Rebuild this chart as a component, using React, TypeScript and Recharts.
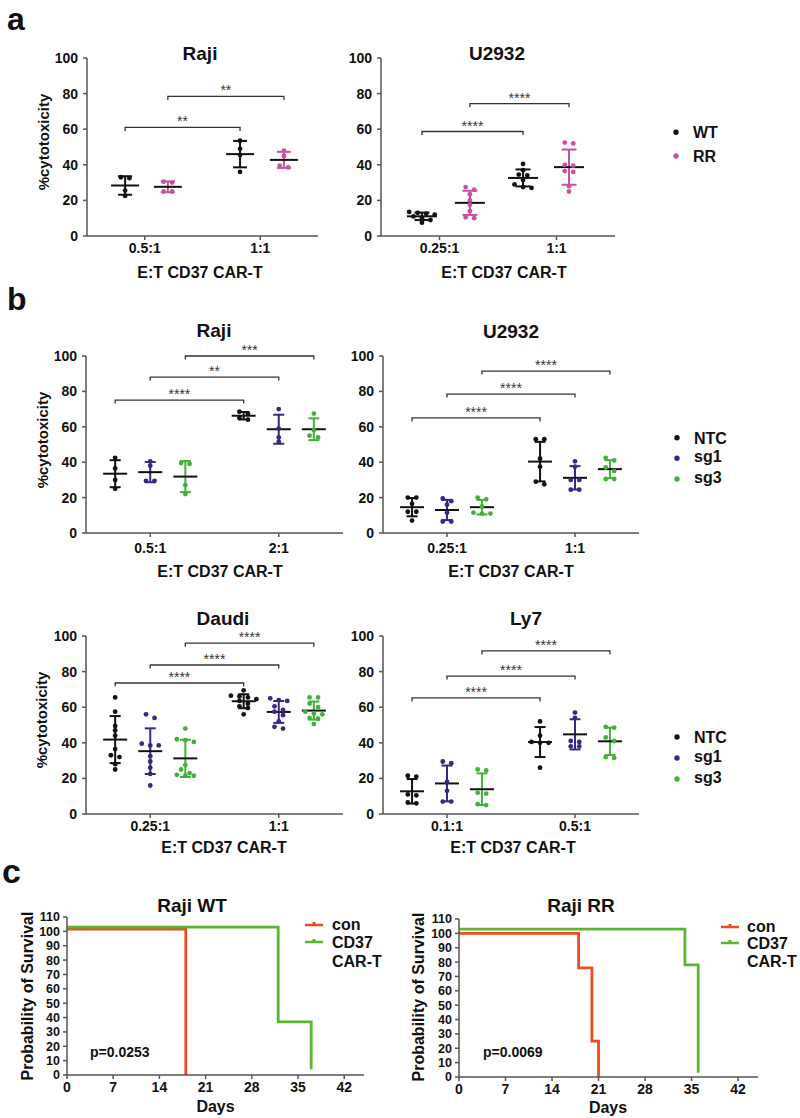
import React from 'react';
import { ScatterChart, Scatter, XAxis, YAxis, ErrorBar, LineChart, Line } from 'recharts';

const FONT = '"Liberation Sans", Arial, Helvetica, sans-serif';
const BLACK = '#111111';
const PINK = '#c9529f';
const PURPLE = '#3b2585';
const GREEN = '#44b03b';
const AXIS = '#555555';
const BRACKET = '#333333';
const RED_C = '#f04a22';
const GREEN_C = '#5bb52e';

// ---------- Panel a: Raji ----------
const rajiA_categories = ['0.5:1', '1:1'];
const rajiA_WT = [[33, 32.5, 25.5, 22.5], [53.5, 49, 45.5, 36]];
const rajiA_RR = [[30.5, 30, 25, 25], [48, 45, 39.5, 38.5]];
const rajiA_brackets = [
  { from: [0, 0], to: [1, 0], y: 61, label: '**' },
  { from: [0, 1], to: [1, 1], y: 78.4, label: '**' },
];

// ---------- Panel a: U2932 ----------
const u2932A_categories = ['0.25:1', '1:1'];
const u2932A_WT = [[13.5, 13, 12.5, 12, 11, 10, 9, 7.5], [40.5, 37, 34.5, 34, 31.5, 29, 27.5, 27]];
const u2932A_RR = [[27.5, 26, 23.5, 20, 17.5, 14, 10.5, 10], [52.5, 52, 40, 39.5, 36.5, 36, 28, 25]];
const u2932A_brackets = [
  { from: [0, 0], to: [1, 0], y: 58.7, label: '****' },
  { from: [0, 1], to: [1, 1], y: 74.4, label: '****' },
];

// ---------- Panel b: Raji ----------
const rajiB_categories = ['0.5:1', '2:1'];
const rajiB_NTC = [[42.5, 36.5, 30, 25], [68.5, 67.5, 65, 64]];
const rajiB_sg1 = [[40.5, 38, 29.5, 29.5], [70, 59, 54, 51.5]];
const rajiB_sg3 = [[39.5, 39, 27, 22], [67.5, 58, 55, 54]];
const rajiB_brackets = [
  { from: [0, 0], to: [1, 0], y: 75.1, label: '****' },
  { from: [0, 1], to: [1, 1], y: 88.1, label: '**' },
  { from: [0, 2], to: [1, 2], y: 100, label: '***' },
];

// ---------- Panel b: U2932 ----------
const u2932B_categories = ['0.25:1', '1:1'];
const u2932B_NTC = [[20, 20, 16.5, 12, 12, 7], [53, 53, 42, 37.5, 29, 27.5]];
const u2932B_sg1 = [[19.5, 18, 16, 11.5, 6.5, 6.5], [40.5, 37.5, 30, 30, 24.5, 24.5]];
const u2932B_sg3 = [[20, 19, 15, 11.5, 11, 11], [42.5, 41, 37, 35, 30.5, 30.5]];
const u2932B_brackets = [
  { from: [0, 0], to: [1, 0], y: 65, label: '****' },
  { from: [0, 1], to: [1, 1], y: 78.5, label: '****' },
  { from: [0, 2], to: [1, 2], y: 91.5, label: '****' },
];

// ---------- Panel b: Daudi ----------
const daudi_categories = ['0.25:1', '1:1'];
const daudi_NTC = [
  [65.5, 57.5, 49.5, 47, 44, 36.5, 33, 32, 28, 25],
  [69.5, 66.5, 66, 65.5, 64.5, 63.5, 62, 60.5, 59.5, 56],
];
const daudi_sg1 = [
  [56, 54, 39.5, 38.5, 38.5, 32.5, 29.5, 26, 22.5, 16],
  [65, 64, 63.5, 60.5, 58.5, 57.5, 55.5, 52, 49, 48],
];
const daudi_sg3 = [
  [48, 42, 41.5, 40.5, 27.5, 25, 23, 22, 21.5, 21.5],
  [65.5, 65.5, 62, 60, 57.5, 56.5, 56, 54, 53.5, 50.5],
];
const daudi_brackets = [
  { from: [0, 0], to: [1, 0], y: 73.6, label: '****' },
  { from: [0, 1], to: [1, 1], y: 83.7, label: '****' },
  { from: [0, 2], to: [1, 2], y: 96, label: '****' },
];

// ---------- Panel b: Ly7 ----------
const ly7_categories = ['0.1:1', '0.5:1'];
const ly7_NTC = [[21.5, 21, 11, 10.5, 6.5, 6], [52, 44, 40.5, 40, 40, 26]];
const ly7_sg1 = [[29.5, 28.5, 18, 13, 7, 7], [57, 54, 41, 40.5, 38, 38]];
const ly7_sg3 = [[25, 24.5, 12, 11.5, 5.5, 5], [49, 48.5, 43, 41, 32, 31.5]];
const ly7_brackets = [
  { from: [0, 0], to: [1, 0], y: 65.2, label: '****' },
  { from: [0, 1], to: [1, 1], y: 77.5, label: '****' },
  { from: [0, 2], to: [1, 2], y: 91.6, label: '****' },
];

// ---------- Panel c: survival ----------
const surv_ticksX = [0, 7, 14, 21, 28, 35, 42];
const surv_ticksY = [0, 10, 20, 30, 40, 50, 60, 70, 80, 90, 100, 110];
const survWT_conDays = [0, 18];
const survWT_con = [101.5, 0];
const survWT_carDays = [0, 32, 37];
const survWT_car = [103, 37, 4];
const survRR_conDays = [0, 18, 20, 21];
const survRR_con = [100, 76, 25, 0];
const survRR_carDays = [0, 34, 36];
const survRR_car = [103, 78, 3];

const yTicks100 = [0, 20, 40, 60, 80, 100];

function mean(a: number[]) {
  return a.reduce((s, v) => s + v, 0) / a.length;
}
function sd(a: number[]) {
  const m = mean(a);
  return Math.sqrt(a.reduce((s, v) => s + (v - m) * (v - m), 0) / (a.length - 1));
}
// horizontal spreading of near-equal values (pixel offsets)
function swarm(values: number[], pxPerY: number, step: number, thresh: number): number[] {
  const idx = values.map((_, i) => i).sort((a, b) => values[b] - values[a]);
  const offs = new Array(values.length).fill(0);
  let row: number[] = [];
  const flush = () => {
    row.forEach((id, k) => {
      offs[id] = (k - (row.length - 1) / 2) * step;
    });
    row = [];
  };
  for (const id of idx) {
    if (row.length && (values[row[0]] - values[id]) * pxPerY > thresh) flush();
    row.push(id);
  }
  flush();
  return offs;
}

const tickStyle = { fontSize: 14, fontWeight: 'bold', fill: BLACK, fontFamily: FONT };

function DotPlot(props: any) {
  const { x0, y0, w, h, categories, groups, slots, brackets, xTickMargin, meanW, capW } = props;
  const yAxisW = 60, mTop = 30, mRight = 12, xAxisH = 34, mBottom = 2;
  const width = yAxisW + w + mRight;
  const height = mTop + h + xAxisH + mBottom;
  const pxX = w / 2;
  const pxY = h / 100;
  const pointSets = groups.map((g: any, gi: number) => {
    const pts: any[] = [];
    g.values.forEach((vals: number[], ci: number) => {
      const offs = swarm(vals, pxY, 8.5, 4);
      vals.forEach((v, k) => pts.push({ x: ci + slots[ci][gi] + offs[k] / pxX, y: v }));
    });
    return pts;
  });
  const meanSets = groups.map((g: any, gi: number) =>
    g.values.map((vals: number[], ci: number) => ({ x: ci + slots[ci][gi], y: mean(vals), sd: sd(vals) }))
  );
  const bracketSets = brackets.map((b: any) => {
    const xa = b.from[0] + slots[b.from[0]][b.from[1]];
    const xb = b.to[0] + slots[b.to[0]][b.to[1]];
    return {
      line: [
        { x: xa, y: b.y - 2 },
        { x: xa, y: b.y },
        { x: xb, y: b.y },
        { x: xb, y: b.y - 2 },
      ],
      label: [{ x: (xa + xb) / 2, y: b.y, label: b.label }],
    };
  });
  return (
    <div style={{ position: 'absolute', left: x0 - yAxisW, top: y0 - mTop }}>
      <ScatterChart width={width} height={height} margin={{ top: mTop, right: mRight, bottom: mBottom, left: 0 }}>
        <XAxis
          type="number"
          dataKey="x"
          domain={[-0.5, 1.5]}
          ticks={[0, 1]}
          interval={0}
          tickFormatter={(v: number) => categories[Math.round(v)]}
          height={xAxisH}
          tickSize={4}
          tickMargin={xTickMargin}
          axisLine={{ stroke: AXIS, strokeWidth: 1.5 }}
          tickLine={{ stroke: AXIS, strokeWidth: 1.5 }}
          tick={tickStyle}
        />
        <YAxis
          type="number"
          dataKey="y"
          domain={[0, 100]}
          ticks={yTicks100}
          interval={0}
          width={yAxisW}
          tickSize={4}
          tickMargin={5}
          axisLine={{ stroke: AXIS, strokeWidth: 1.5 }}
          tickLine={{ stroke: AXIS, strokeWidth: 1.5 }}
          tick={tickStyle}
        />
        {bracketSets.map((b: any, i: number) => (
          <Scatter
            key={'bl' + i}
            data={b.line}
            line={{ stroke: BRACKET, strokeWidth: 1.3 }}
            lineType="joint"
            shape={() => <g />}
            isAnimationActive={false}
          />
        ))}
        {bracketSets.map((b: any, i: number) => (
          <Scatter
            key={'bt' + i}
            data={b.label}
            isAnimationActive={false}
            shape={(p: any) => (
              <text
                x={p.cx}
                y={p.cy - 1}
                textAnchor="middle"
                fontSize={14}
                fontFamily={FONT}
                fill={BRACKET}
              >
                {(p.payload && p.payload.label) || p.label}
              </text>
            )}
          />
        ))}
        {groups.map((g: any, gi: number) => (
          <Scatter
            key={'m' + gi}
            data={meanSets[gi]}
            isAnimationActive={false}
            shape={(p: any) => (
              <line
                x1={p.cx - meanW / 2}
                x2={p.cx + meanW / 2}
                y1={p.cy}
                y2={p.cy}
                stroke={BLACK}
                strokeWidth={2}
              />
            )}
          >
            <ErrorBar
              dataKey="sd"
              direction="y"
              width={capW / 2}
              stroke={g.color}
              strokeWidth={2}
              isAnimationActive={false}
            />
          </Scatter>
        ))}
        {groups.map((g: any, gi: number) => (
          <Scatter
            key={'p' + gi}
            data={pointSets[gi]}
            isAnimationActive={false}
            shape={(p: any) => <circle cx={p.cx} cy={p.cy} r={2.4} fill={g.color} />}
          />
        ))}
      </ScatterChart>
    </div>
  );
}

function toSeries(days: number[], vals: number[]) {
  return days.map((t, i) => ({ t, s: vals[i] }));
}

function SurvivalPlot(props: any) {
  const { x0, y0, w, h, series } = props;
  const yAxisW = 50, mTop = 10, mRight = 8, xAxisH = 30, mBottom = 2;
  const width = yAxisW + w + mRight;
  const height = mTop + h + xAxisH + mBottom;
  return (
    <div style={{ position: 'absolute', left: x0 - yAxisW, top: y0 - mTop }}>
      <LineChart width={width} height={height} margin={{ top: mTop, right: mRight, bottom: mBottom, left: 0 }}>
        <XAxis
          type="number"
          dataKey="t"
          domain={[0, 45]}
          ticks={surv_ticksX}
          interval={0}
          height={xAxisH}
          tickSize={4}
          tickMargin={3}
          axisLine={{ stroke: AXIS, strokeWidth: 1.5 }}
          tickLine={{ stroke: AXIS, strokeWidth: 1.5 }}
          tick={{ ...tickStyle, fontSize: 14 }}
        />
        <YAxis
          type="number"
          domain={[0, 110]}
          ticks={surv_ticksY}
          interval={0}
          width={yAxisW}
          tickSize={4}
          tickMargin={3}
          axisLine={{ stroke: AXIS, strokeWidth: 1.5 }}
          tickLine={{ stroke: AXIS, strokeWidth: 1.5 }}
          tick={{ ...tickStyle, fontSize: 12.5 }}
        />
        {series.map((s: any, i: number) => (
          <Line
            key={i}
            data={s.data}
            dataKey="s"
            type="stepAfter"
            stroke={s.color}
            strokeWidth={2.8}
            dot={false}
            activeDot={false}
            isAnimationActive={false}
          />
        ))}
      </LineChart>
    </div>
  );
}

function Overlay() {
  const bold = { fontFamily: FONT, fontWeight: 'bold' as const, fill: BLACK };
  const title = (x: number, y: number, t: string) => (
    <text x={x} y={y} textAnchor="middle" fontSize={19} {...bold}>{t}</text>
  );
  const xlab = (x: number, y: number) => (
    <text x={x} y={y} textAnchor="middle" fontSize={16} {...bold}>E:T CD37 CAR-T</text>
  );
  const ylab = (x: number, y: number, t: string, fs: number) => (
    <text
      x={x}
      y={y}
      transform={`rotate(-90 ${x} ${y})`}
      textAnchor="middle"
      dominantBaseline="central"
      fontSize={fs}
      {...bold}
    >
      {t}
    </text>
  );
  const dotLegend = (x: number, items: { y: number; base: number; color: string; t: string }[]) =>
    items.map((it, i) => (
      <g key={i}>
        <circle cx={x} cy={it.y} r={2.7} fill={it.color} />
        <text x={x + 17} y={it.base} fontSize={16} {...bold}>{it.t}</text>
      </g>
    ));
  const survLegend = (x: number, tx: number, yRed: number, yGreen: number, bases: number[]) => (
    <g>
      <line x1={x} x2={x + 18} y1={yRed} y2={yRed} stroke={RED_C} strokeWidth={2.5} />
      <rect x={x + 7.5} y={yRed - 3} width={3} height={3} fill={RED_C} />
      <line x1={x} x2={x + 18} y1={yGreen} y2={yGreen} stroke={GREEN_C} strokeWidth={2.5} />
      <rect x={x + 7.5} y={yGreen - 3} width={3} height={3} fill={GREEN_C} />
      <text x={tx} y={bases[0]} fontSize={16} {...bold}>con</text>
      <text x={tx} y={bases[1]} fontSize={16} {...bold}>CD37</text>
      <text x={tx} y={bases[2]} fontSize={16} {...bold}>CAR-T</text>
    </g>
  );
  return (
    <svg
      width={800}
      height={1118}
      style={{ position: 'absolute', left: 0, top: 0, pointerEvents: 'none' }}
    >
      <text x={7} y={30} fontSize={32} {...bold}>a</text>
      <text x={7} y={310} fontSize={32} {...bold}>b</text>
      <text x={2} y={883} fontSize={34} {...bold}>c</text>

      {title(200, 60, 'Raji')}
      {title(497, 60, 'U2932')}
      {title(214, 337, 'Raji')}
      {title(511, 338, 'U2932')}
      {title(223, 625, 'Daudi')}
      {title(526, 625, 'Ly7')}
      {title(192, 912, 'Raji WT')}
      {title(581, 912, 'Raji RR')}

      {xlab(200, 278)}
      {xlab(504, 278)}
      {xlab(220, 577)}
      {xlab(511, 577)}
      {xlab(224, 853)}
      {xlab(513, 853)}

      {ylab(43, 142, '%cytotoxicity', 15)}
      {ylab(42, 440, '%cytotoxicity', 15)}
      {ylab(41, 720, '%cytotoxicity', 15)}
      {ylab(27.5, 996, 'Probability of Survival', 16)}
      {ylab(418.5, 997, 'Probability of Survival', 16)}

      <text x={215.5} y={1112} textAnchor="middle" fontSize={16} {...bold}>Days</text>
      <text x={608} y={1113} textAnchor="middle" fontSize={16} {...bold}>Days</text>
      <text x={90} y={1057} fontSize={14} {...bold}>p=0.0253</text>
      <text x={483} y={1057} fontSize={14} {...bold}>p=0.0069</text>

      {dotLegend(676, [
        { y: 132.3, base: 138, color: BLACK, t: 'WT' },
        { y: 156, base: 161.7, color: PINK, t: 'RR' },
      ])}
      {dotLegend(677, [
        { y: 437.7, base: 443.5, color: BLACK, t: 'NTC' },
        { y: 458.3, base: 462, color: PURPLE, t: 'sg1' },
        { y: 479, base: 482.5, color: GREEN, t: 'sg3' },
      ])}
      {dotLegend(677, [
        { y: 737, base: 743, color: BLACK, t: 'NTC' },
        { y: 758, base: 762, color: PURPLE, t: 'sg1' },
        { y: 779, base: 782.5, color: GREEN, t: 'sg3' },
      ])}

      {survLegend(305, 332, 925, 942, [930, 948, 967])}
      {survLegend(721, 747, 927, 943, [932, 949, 967])}
    </svg>
  );
}

export default function App() {
  const slotsB = [
    [-0.273, 0, 0.273],
    [-0.273, 0, 0.273],
  ];
  return (
    <div
      style={{
        position: 'absolute',
        left: 0,
        top: 0,
        width: 800,
        height: 1118,
        background: '#ffffff',
        fontFamily: FONT,
        overflow: 'hidden',
      }}
    >
      <DotPlot
        x0={87}
        y0={57.5}
        w={231}
        h={178}
        categories={rajiA_categories}
        groups={[
          { color: BLACK, values: rajiA_WT },
          { color: PINK, values: rajiA_RR },
        ]}
        slots={[
          [-0.17, 0.2],
          [-0.175, 0.205],
        ]}
        brackets={rajiA_brackets}
        xTickMargin={3.5}
        meanW={28}
        capW={14}
      />
      <DotPlot
        x0={381}
        y0={57.5}
        w={234}
        h={178}
        categories={u2932A_categories}
        groups={[
          { color: BLACK, values: u2932A_WT },
          { color: PINK, values: u2932A_RR },
        ]}
        slots={[
          [-0.15, 0.26],
          [-0.286, 0.107],
        ]}
        brackets={u2932A_brackets}
        xTickMargin={3.5}
        meanW={30}
        capW={15}
      />
      <DotPlot
        x0={86}
        y0={356}
        w={257}
        h={177}
        categories={rajiB_categories}
        groups={[
          { color: BLACK, values: rajiB_NTC },
          { color: PURPLE, values: rajiB_sg1 },
          { color: GREEN, values: rajiB_sg3 },
        ]}
        slots={slotsB}
        brackets={rajiB_brackets}
        xTickMargin={6}
        meanW={24}
        capW={11}
      />
      <DotPlot
        x0={383}
        y0={356}
        w={256}
        h={177}
        categories={u2932B_categories}
        groups={[
          { color: BLACK, values: u2932B_NTC },
          { color: PURPLE, values: u2932B_sg1 },
          { color: GREEN, values: u2932B_sg3 },
        ]}
        slots={slotsB}
        brackets={u2932B_brackets}
        xTickMargin={6}
        meanW={24}
        capW={11}
      />
      <DotPlot
        x0={86}
        y0={636}
        w={257}
        h={178}
        categories={daudi_categories}
        groups={[
          { color: BLACK, values: daudi_NTC },
          { color: PURPLE, values: daudi_sg1 },
          { color: GREEN, values: daudi_sg3 },
        ]}
        slots={slotsB}
        brackets={daudi_brackets}
        xTickMargin={3.5}
        meanW={24}
        capW={11}
      />
      <DotPlot
        x0={382.5}
        y0={636}
        w={256}
        h={178}
        categories={ly7_categories}
        groups={[
          { color: BLACK, values: ly7_NTC },
          { color: PURPLE, values: ly7_sg1 },
          { color: GREEN, values: ly7_sg3 },
        ]}
        slots={slotsB}
        brackets={ly7_brackets}
        xTickMargin={3.5}
        meanW={24}
        capW={11}
      />
      <SurvivalPlot
        x0={67}
        y0={917}
        w={297}
        h={158}
        series={[
          { color: RED_C, data: toSeries(survWT_conDays, survWT_con) },
          { color: GREEN_C, data: toSeries(survWT_carDays, survWT_car) },
        ]}
      />
      <SurvivalPlot
        x0={459}
        y0={919}
        w={299}
        h={158}
        series={[
          { color: RED_C, data: toSeries(survRR_conDays, survRR_con) },
          { color: GREEN_C, data: toSeries(survRR_carDays, survRR_car) },
        ]}
      />
      <Overlay />
    </div>
  );
}
